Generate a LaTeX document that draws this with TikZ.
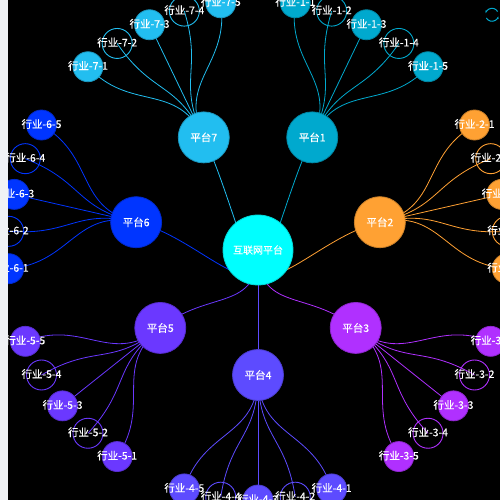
\documentclass[tikz,border=0pt]{standalone}
\usepackage{fontspec}
\newfontfamily\cjk[FakeBold=0.3]{Noto Sans CJK SC}
\usetikzlibrary{arrows.meta}

\definecolor{hubcol}{HTML}{00FFFF}
\definecolor{col1}{HTML}{00A9CE}
\definecolor{col2}{HTML}{FFA133}
\definecolor{col3}{HTML}{B030FF}
\definecolor{col4}{HTML}{5D4BFF}
\definecolor{col5}{HTML}{6B38FF}
\definecolor{col6}{HTML}{0035FF}
\definecolor{col7}{HTML}{22BEF0}
\definecolor{pagecol}{HTML}{F0F2F5}

\pgfdeclarelayer{canvas}
\pgfdeclarelayer{edges}
\pgfsetlayers{canvas,edges,main}

\tikzset{
  lbl/.style={text=white, font=\cjk\fontsize{10.5}{12}\selectfont},
  hub/.style={circle, minimum size=70pt, inner sep=0pt, fill=hubcol, draw=hubcol!85!black, line width=0.8pt, lbl, font=\cjk\fontsize{10}{12}\selectfont},
  plat/.style={circle, minimum size=51pt, inner sep=0pt, fill=gcol, draw=gcol!80!black, line width=0.8pt, lbl},
  full/.style={circle, minimum size=30pt, inner sep=0pt, fill=gcol, draw=gcol!80!black, line width=0.8pt},
  hollow/.style={circle, minimum size=30pt, inner sep=0pt, draw=gcol, line width=0.9pt},
  link/.style={draw=gcol, line width=0.8pt},
}

\begin{document}
\begin{tikzpicture}
  \useasboundingbox (-258pt,-250pt) rectangle (242pt,250pt);
  \begin{pgfonlayer}{canvas}
    \fill[black] (-258pt,-250pt) rectangle (242pt,250pt);
  \end{pgfonlayer}

  \node[hub] (hub) at (0,0) {互联网平台};

  % platforms and their industries
  \foreach \g in {1,...,7} {
    \pgfmathsetmacro{\a}{-90+(4-\g)*360/7}
    \colorlet{gcol}{col\g}
    \node[plat] (plat\g) at (\a:125pt) {平台\g};
    \foreach \i/\s in {1/full,2/hollow,3/full,4/hollow,5/full}
      \node[\s, label={[lbl,yshift=1pt]center:行业-\g-\i}] (ind\g-\i) at ({\a+(3-\i)*360/42}:250pt) {};
  }

  % curved links under the nodes
  \begin{pgfonlayer}{edges}
  \foreach \g in {1,...,7} {
    \pgfmathsetmacro{\a}{-90+(4-\g)*360/7}
    \colorlet{gcol}{col\g}
    \draw[link] (hub.center) .. controls (-90:62.5pt) and (\a:62.5pt) .. (plat\g.center);
    \foreach \i in {1,...,5}
      \draw[link] (plat\g.center) .. controls (\a:187.5pt) and ({\a+(3-\i)*360/42}:187.5pt) .. (ind\g-\i.center);
  }
  \end{pgfonlayer}

  \fill[pagecol] (-258pt,-250pt) rectangle (-250pt,250pt);

  % restore button
  \coordinate (reset) at (234pt,235.2pt);
  \draw[col1, line width=1pt, -{Stealth[length=2.5pt]}] ([shift={(30:6.5pt)}]reset) arc (30:165:6.5pt);
  \draw[col1, line width=1pt, -{Stealth[length=2.5pt]}] ([shift={(210:6.5pt)}]reset) arc (210:345:6.5pt);
\end{tikzpicture}
\end{document}
